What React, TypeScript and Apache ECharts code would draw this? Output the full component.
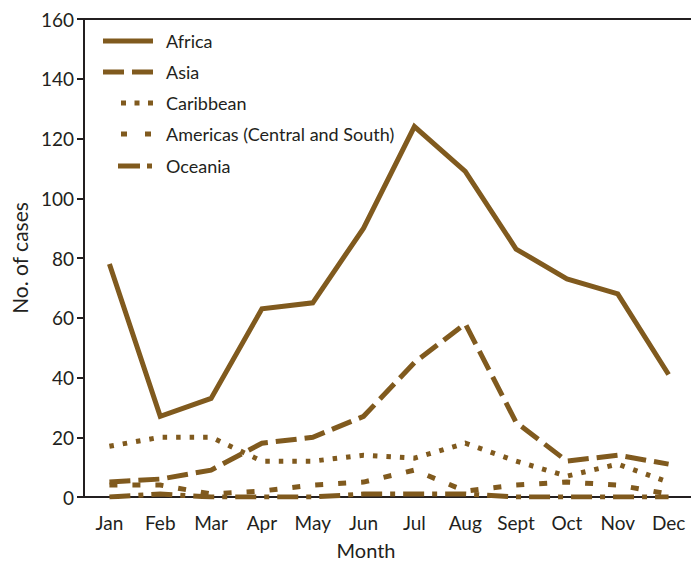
import React, { useEffect, useRef } from "react";
import * as echarts from "echarts";

const months = ["Jan", "Feb", "Mar", "Apr", "May", "Jun", "Jul", "Aug", "Sept", "Oct", "Nov", "Dec"];
const africa = [78, 27, 33, 63, 65, 90, 124, 109, 83, 73, 68, 41];
const asia = [5, 6, 9, 18, 20, 27, 45, 58, 25, 12, 14, 11];
const caribbean = [17, 20, 20, 12, 12, 14, 13, 18, 12, 7, 11, 5];
const americas = [4, 4, 1, 2, 4, 5, 9, 2, 4, 5, 4, 1];
const oceania = [0, 1, 0, 0, 0, 1, 1, 1, 0, 0, 0, 0];
const yTicks = { min: 0, max: 160, interval: 20 };
const seriesNames = ["Africa", "Asia", "Caribbean", "Americas (Central and South)", "Oceania"];

const BROWN = "#805a1e";
const INK = "#231f20";
const FONT = "Lato, 'Open Sans', sans-serif";

export default function App() {
  const ref = useRef<HTMLDivElement>(null);
  useEffect(() => {
    if (!ref.current) return;
    const chart = echarts.init(ref.current, undefined, { renderer: "svg" });
    const dashes: any[] = ["solid", [21, 8], [4.5, 9], [8, 15], [21, 8, 5, 8]];
    const datas = [africa, asia, caribbean, americas, oceania];
    // legend icon geometry: [x1, x2, dash]
    const legendIcons: any[] = [
      [103, 153, null],
      [103, 153, [21, 8]],
      [121, 153, [5, 8.5]],
      [121, 153, [6, 18]],
      [118, 153, [22, 7, 5, 100]],
    ];
    const rowY = [41, 72, 103, 134, 166];
    const graphics: any[] = [];
    seriesNames.forEach((n, i) => {
      const [x1, x2, d] = legendIcons[i];
      graphics.push({
        type: "line",
        shape: { x1, y1: rowY[i], x2, y2: rowY[i] },
        style: { stroke: BROWN, lineWidth: 5, lineDash: d || undefined, lineCap: "butt" },
        z: 10,
      });
      graphics.push({
        type: "text",
        x: 166,
        y: rowY[i],
        style: { text: n, fill: INK, font: `18px ${FONT}`, textVerticalAlign: "middle", verticalAlign: "middle" },
        z: 10,
      });
    });
    chart.setOption({
      animation: false,
      textStyle: { fontFamily: FONT },
      grid: {
        left: 84,
        top: 19,
        width: 610,
        height: 478,
        show: true,
        borderColor: INK,
        borderWidth: 2,
        outerBoundsMode: "none",
        containLabel: false,
      },
      graphic: graphics,
      xAxis: {
        type: "category",
        data: months,
        boundaryGap: true,
        name: "Month",
        nameLocation: "middle",
        nameGap: 43,
        nameTextStyle: { fontFamily: FONT, fontSize: 20, color: INK, padding: [0, 46, 0, 0] },
        axisLine: { lineStyle: { color: INK, width: 2 } },
        axisTick: { alignWithLabel: true, length: 7, lineStyle: { color: INK, width: 2 } },
        axisLabel: { fontFamily: FONT, fontSize: 19, color: INK, margin: 16 },
      },
      yAxis: {
        type: "value",
        min: yTicks.min,
        max: yTicks.max,
        interval: yTicks.interval,
        name: "No. of cases",
        nameLocation: "middle",
        nameRotate: 90,
        nameGap: 52,
        nameTextStyle: { fontFamily: FONT, fontSize: 21, color: INK },
        splitLine: { show: false },
        axisLine: { show: true, lineStyle: { color: INK, width: 2 } },
        axisTick: { show: true, length: 7, lineStyle: { color: INK, width: 2 } },
        axisLabel: { fontFamily: FONT, fontSize: 19, color: INK, margin: 10 },
      },
      series: seriesNames.map((name, i) => ({
        name,
        type: "line",
        data: datas[i],
        symbol: "none",
        lineStyle: { color: BROWN, width: 5, type: dashes[i], cap: "butt", join: "miter" },
        itemStyle: { color: BROWN },
      })),
    });
    return () => chart.dispose();
  }, []);
  return <div ref={ref} style={{ width: 691, height: 561, position: "absolute", left: 0, top: 0 }} />;
}
